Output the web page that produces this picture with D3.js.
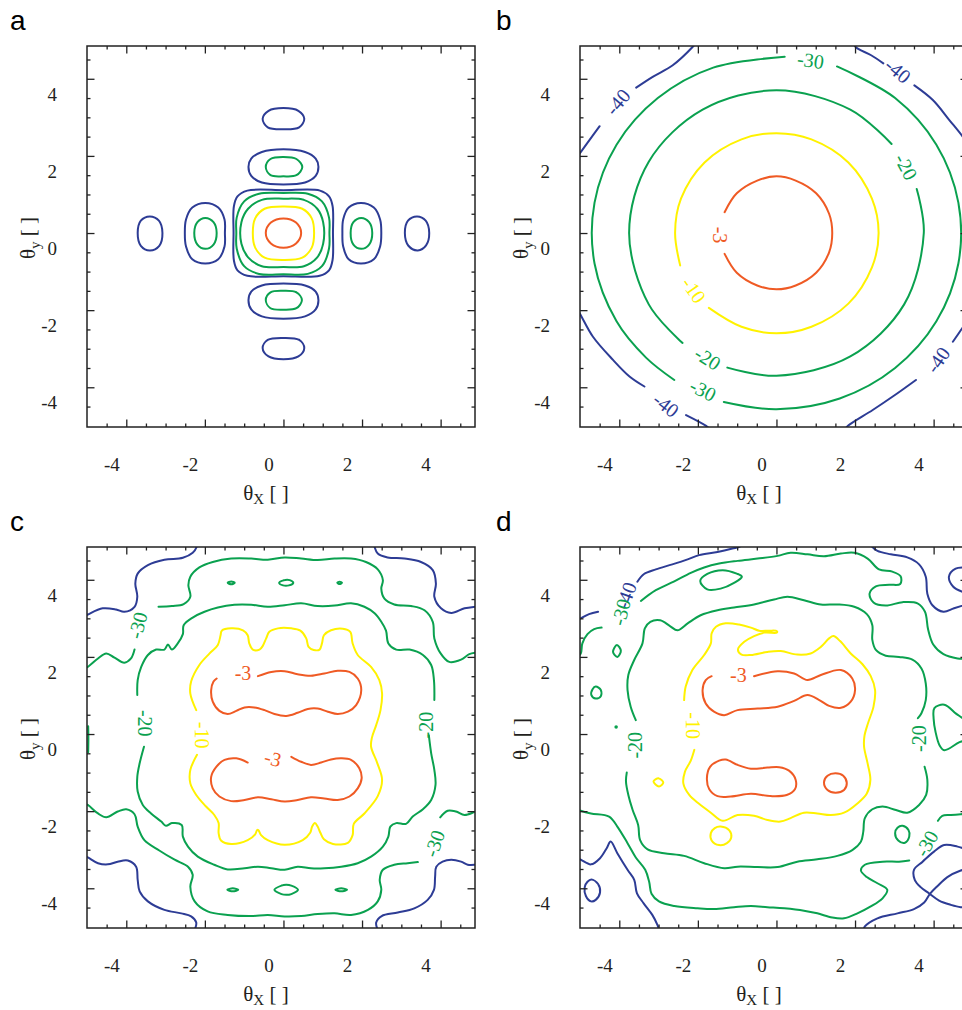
<!DOCTYPE html>
<html>
<head>
<meta charset="utf-8">
<script src="https://cdn.jsdelivr.net/npm/d3@7"></script>
<style>
  body { margin: 0; background: #fff; }
</style>
</head>
<body>
<svg id="fig" width="962" height="1010"></svg>
<script>
// Contour levels (dB) and their line colours
const levels = [-3, -10, -20, -30, -40];
const levelColors = ["#ef5a24", "#fff200", "#0aa14f", "#0aa14f", "#2d3c95"];

// Axis ticks and labels (angles in the same units on both axes)
const majorTicks = [-4, -2, 0, 2, 4];
const minorTicks = [-4.5, -3.5, -3, -2.5, -1.5, -1, -0.5, 0.5, 1, 1.5, 2.5, 3, 3.5, 4.5];
const tickLabels = ["-4", "-2", "0", "2", "4"];
const xDomain = [-5, 4.875];
const yDomain = [-5.03, 4.85];

// ---------- panel a: square aperture pattern (closed contours) ----------
const a_m3 = [[0,0.38],[0.32,0.27],[0.45,0],[0.32,-0.27],[0,-0.38],[-0.32,-0.27],[-0.45,0],[-0.32,0.27]];
const a_m10 = [[0,0.69],[0.48,0.63],[0.72,0.38],[0.78,0],[0.72,-0.38],[0.48,-0.64],[0,-0.70],[-0.48,-0.64],[-0.72,-0.38],[-0.78,0],[-0.72,0.38],[-0.48,0.63]];
const a_m20 = [[0,0.89],[0.52,0.86],[0.86,0.63],[1.01,0.28],[1.01,-0.28],[0.86,-0.63],[0.52,-0.86],[0,-0.88],[-0.55,-0.86],[-0.90,-0.63],[-1.07,-0.28],[-1.07,0.28],[-0.90,0.63],[-0.55,0.86]];
const a_m30 = [[0,1.04],[0.62,1.02],[0.98,0.82],[1.16,0.40],[1.17,0],[1.16,-0.40],[0.98,-0.86],[0.62,-1.06],[0,-1.07],[-0.62,-1.06],[-1.0,-0.86],[-1.19,-0.40],[-1.20,0],[-1.19,0.40],[-1.0,0.82],[-0.62,1.02]];
const a_m40 = [[-0.92,1.10],[0,1.11],[0.93,1.10],[1.16,0.95],[1.25,0.70],[1.26,0],[1.25,-0.70],[1.16,-0.97],[0.92,-1.11],[0,-1.12],[-0.92,-1.11],[-1.17,-0.97],[-1.26,-0.72],[-1.27,0],[-1.26,0.70],[-1.17,0.95]];
const a_lobeTop40 = [[0,2.17],[0.55,2.10],[0.82,1.93],[0.89,1.72],[0.82,1.48],[0.55,1.31],[0,1.26],[-0.55,1.31],[-0.82,1.48],[-0.89,1.72],[-0.82,1.93],[-0.55,2.10]];
const a_lobeBottom40 = [[0,-1.31],[0.55,-1.36],[0.82,-1.52],[0.89,-1.74],[0.82,-1.98],[0.55,-2.16],[0,-2.22],[-0.55,-2.16],[-0.82,-1.98],[-0.89,-1.74],[-0.82,-1.52],[-0.55,-1.36]];
const a_lobeTop2_40 = [[0,3.24],[0.38,3.17],[0.53,2.96],[0.40,2.74],[0,2.69],[-0.40,2.74],[-0.53,2.96],[-0.38,3.17]];
const a_lobeBottom2_40 = [[0,-2.72],[0.40,-2.77],[0.53,-2.98],[0.38,-3.20],[0,-3.27],[-0.38,-3.20],[-0.53,-2.98],[-0.40,-2.77]];
const a_lobeRight40 = [[1.97,0.78],[2.30,0.66],[2.46,0.35],[2.49,0],[2.46,-0.35],[2.30,-0.68],[1.97,-0.79],[1.66,-0.68],[1.52,-0.35],[1.50,0],[1.52,0.35],[1.66,0.66]];
const a_lobeLeft40 = [[-1.99,0.78],[-1.66,0.66],[-1.50,0.35],[-1.49,0],[-1.50,-0.35],[-1.66,-0.68],[-1.99,-0.79],[-2.32,-0.68],[-2.48,-0.35],[-2.51,0],[-2.48,0.35],[-2.32,0.66]];
const a_lobeRight2_40 = [[3.40,0.43],[3.62,0.32],[3.71,0],[3.63,-0.32],[3.42,-0.45],[3.18,-0.33],[3.09,0],[3.17,0.32]];
const a_lobeLeft2_40 = [[-3.40,0.43],[-3.17,0.32],[-3.08,0],[-3.16,-0.33],[-3.40,-0.45],[-3.63,-0.33],[-3.71,0],[-3.63,0.32]];
const a_lobeTop30 = [[0,1.97],[0.33,1.92],[0.48,1.71],[0.33,1.50],[0,1.47],[-0.33,1.50],[-0.45,1.71],[-0.33,1.92]];
const a_lobeBottom30 = [[0,-1.50],[0.33,-1.54],[0.47,-1.74],[0.33,-1.95],[0,-1.99],[-0.33,-1.95],[-0.45,-1.74],[-0.33,-1.54]];
const a_lobeRight30 = [[1.98,0.39],[2.18,0.28],[2.26,0],[2.18,-0.30],[1.98,-0.41],[1.78,-0.30],[1.71,0],[1.78,0.28]];
const a_lobeLeft30 = [[-1.99,0.39],[-1.78,0.28],[-1.70,0],[-1.78,-0.30],[-1.99,-0.41],[-2.19,-0.30],[-2.27,0],[-2.19,0.28]];

// ---------- panel b: circular beam (open arcs, broken at the labels) ----------
const b_m3 = [[-1.32,0.54],[-1.01,1.03],[-0.49,1.36],[0,1.47],[0.49,1.36],[1.01,1.03],[1.34,0.50],[1.42,0],[1.34,-0.50],[1.01,-1.03],[0.49,-1.36],[0,-1.46],[-0.49,-1.36],[-1.01,-1.03],[-1.32,-0.54]];
const b_m10 = [[-1.72,-1.94],[-0.89,-2.43],[0,-2.60],[0.89,-2.43],[1.83,-1.83],[2.43,-0.89],[2.60,0],[2.43,0.89],[1.83,1.83],[0.89,2.43],[0,2.59],[-0.89,2.43],[-1.83,1.83],[-2.43,0.89],[-2.58,0],[-2.45,-0.84]];
const b_m20a = [[2.93,2.31],[1.88,3.20],[0,3.70],[-1.88,3.20],[-3.25,1.85],[-3.75,0],[-3.25,-1.85],[-2.39,-2.85]];
const b_m20b = [[-1.25,-3.49],[0,-3.70],[1.88,-3.20],[3.25,-1.85],[3.75,0],[3.57,1.14]];
const b_m30a = [[0.21,4.57],[-1.61,4.29],[-3.02,3.50],[-4.07,2.29],[-4.63,0.79],[-4.63,-0.79],[-4.07,-2.29],[-3.32,-3.23],[-2.60,-3.81]];
const b_m30b = [[-1.34,-4.38],[0,-4.57],[1.61,-4.29],[3.02,-3.50],[4.07,-2.29],[4.63,-0.79],[4.63,0.79],[4.07,2.29],[3.02,3.50],[1.54,4.32]];
const b_m40tl1 = [[-5.08,1.98],[-5.01,2.06],[-4.76,2.41],[-4.50,2.77]];
const b_m40tl2 = [[-3.57,3.77],[-3.15,4.05],[-2.64,4.35],[-2.13,4.83],[-2.05,4.93]];
const b_m40tr1 = [[1.95,4.93],[2.03,4.81],[2.41,4.61],[2.72,4.40]];
const b_m40tr2 = [[3.51,3.83],[3.98,3.45],[4.40,2.93],[4.74,2.50],[4.91,2.24]];
const b_m40bl1 = [[-5.08,-1.98],[-5.01,-2.08],[-4.67,-2.69],[-4.16,-3.29],[-3.74,-3.72],[-3.36,-3.98]];
const b_m40bl2 = [[-2.30,-4.72],[-1.79,-5.0],[-1.70,-5.08]];
const b_m40br1 = [[1.75,-5.08],[1.82,-5.0],[2.45,-4.59],[2.96,-4.24],[3.55,-3.81]];
const b_m40br2 = [[4.49,-2.82],[4.70,-2.51],[4.91,-2.17]];

// ---------- panel c ----------
const c_m3_upper = [[-0.65,1.50],[-0.31,1.61],[0.03,1.63],[0.36,1.55],[0.70,1.51],[1.04,1.57],[1.38,1.64],[1.68,1.61],[1.89,1.44],[1.98,1.14],[1.85,0.75],[1.64,0.58],[1.38,0.52],[1.13,0.58],[0.87,0.66],[0.62,0.65],[0.36,0.55],[0.07,0.47],[-0.23,0.52],[-0.48,0.62],[-0.74,0.69],[-0.99,0.69],[-1.20,0.60],[-1.42,0.52],[-1.63,0.60],[-1.80,0.84],[-1.84,1.14],[-1.78,1.36],[-1.70,1.44]];
const c_m3_lower = [[-0.91,-0.74],[-1.20,-0.63],[-1.50,-0.67],[-1.71,-0.85],[-1.84,-1.11],[-1.80,-1.41],[-1.63,-1.62],[-1.33,-1.74],[-0.99,-1.71],[-0.65,-1.64],[-0.31,-1.69],[0.03,-1.75],[0.36,-1.71],[0.70,-1.64],[1.04,-1.67],[1.38,-1.71],[1.68,-1.62],[1.89,-1.41],[1.99,-1.15],[1.93,-0.89],[1.72,-0.67],[1.47,-0.63],[1.21,-0.66],[0.96,-0.74],[0.70,-0.80],[0.45,-0.72],[0.20,-0.59]];
const c_m10 = [[-2.22,0.62],[-2.37,1.05],[-2.35,1.36],[-2.14,1.79],[-1.88,2.09],[-1.67,2.31],[-1.60,2.56],[-1.57,2.68],[-1.33,2.74],[-1.03,2.69],[-0.91,2.56],[-0.87,2.35],[-0.78,2.19],[-0.61,2.19],[-0.53,2.28],[-0.44,2.48],[-0.36,2.65],[-0.14,2.74],[0.20,2.74],[0.43,2.68],[0.58,2.48],[0.64,2.26],[0.77,2.18],[0.92,2.19],[0.98,2.35],[1.03,2.56],[1.21,2.69],[1.51,2.73],[1.70,2.65],[1.76,2.35],[1.89,2.05],[2.23,1.74],[2.44,1.40],[2.51,1.05],[2.47,0.62],[2.36,0.23],[2.25,-0.10],[2.23,-0.33],[2.39,-0.76],[2.51,-1.19],[2.40,-1.61],[2.06,-2.06],[1.79,-2.33],[1.76,-2.62],[1.64,-2.82],[1.26,-2.85],[1.03,-2.73],[0.94,-2.56],[0.87,-2.40],[0.80,-2.31],[0.73,-2.40],[0.68,-2.56],[0.49,-2.75],[0.03,-2.87],[-0.40,-2.75],[-0.57,-2.62],[-0.64,-2.49],[-0.67,-2.49],[-0.72,-2.60],[-0.91,-2.75],[-1.33,-2.85],[-1.59,-2.76],[-1.65,-2.57],[-1.65,-2.31],[-1.76,-2.10],[-1.97,-1.88],[-2.22,-1.58],[-2.37,-1.28],[-2.37,-0.93],[-2.20,-0.54]];
const c_m20_upper = [[-3.72,1.01],[-3.71,1.40],[-3.62,1.74],[-3.45,2.05],[-3.24,2.19],[-3.03,2.19],[-2.94,2.32],[-2.84,2.19],[-2.69,2.35],[-2.56,2.59],[-2.54,2.82],[-2.31,3.02],[-2.01,3.17],[-1.67,3.28],[-1.25,3.35],[-0.82,3.35],[-0.40,3.30],[0.03,3.34],[0.45,3.39],[0.87,3.32],[1.30,3.33],[1.72,3.39],[2.06,3.30],[2.32,3.13],[2.49,2.91],[2.61,2.68],[2.67,2.35],[2.87,2.19],[3.21,2.19],[3.55,2.05],[3.76,1.79],[3.83,1.40],[3.84,0.88]];
const c_m20_lower = [[3.70,-0.03],[3.76,-0.50],[3.84,-0.93],[3.87,-1.32],[3.76,-1.71],[3.55,-1.95],[3.29,-2.14],[3.12,-2.33],[2.87,-2.31],[2.72,-2.40],[2.67,-2.66],[2.53,-2.92],[2.23,-3.18],[1.89,-3.35],[1.47,-3.44],[1.04,-3.48],[0.70,-3.48],[0.36,-3.44],[0.03,-3.52],[-0.31,-3.48],[-0.65,-3.44],[-0.99,-3.48],[-1.42,-3.51],[-1.76,-3.39],[-2.18,-3.18],[-2.43,-2.92],[-2.56,-2.66],[-2.59,-2.36],[-2.84,-2.31],[-2.99,-2.38],[-3.11,-2.27],[-3.37,-2.06],[-3.58,-1.84],[-3.71,-1.49],[-3.72,-1.11],[-3.66,-0.76],[-3.55,-0.33]];
const c_m30_upperLeft = [[-5.08,1.70],[-4.98,1.74],[-4.72,1.96],[-4.51,2.09],[-4.30,1.98],[-4.05,1.85],[-3.88,1.96],[-3.79,2.19]];
const c_m30_upper = [[-3.18,3.30],[-2.84,3.32],[-2.54,3.37],[-2.37,3.56],[-2.42,3.86],[-2.37,4.08],[-2.14,4.32],[-1.80,4.46],[-1.33,4.55],[-0.82,4.55],[-0.40,4.52],[0.03,4.58],[0.45,4.55],[0.87,4.51],[1.30,4.55],[1.72,4.55],[2.10,4.46],[2.40,4.27],[2.53,3.99],[2.49,3.77],[2.57,3.51],[2.82,3.36],[3.25,3.32],[3.59,3.21],[3.80,2.91],[3.84,2.48],[4.00,2.09],[4.22,1.87],[4.52,1.93],[4.73,2.07],[4.90,2.11],[5.0,2.12]];
const c_m30_lower = [[-5.08,-1.80],[-4.98,-1.84],[-4.72,-2.06],[-4.51,-2.16],[-4.22,-2.01],[-4.00,-1.95],[-3.79,-2.08],[-3.71,-2.40],[-3.54,-2.75],[-3.16,-3.02],[-2.77,-3.26],[-2.43,-3.44],[-2.31,-3.65],[-2.37,-3.96],[-2.26,-4.34],[-1.93,-4.60],[-1.42,-4.69],[-0.82,-4.72],[-0.40,-4.69],[0.03,-4.73],[0.45,-4.72],[0.87,-4.67],[1.30,-4.65],[1.72,-4.69],[2.15,-4.56],[2.40,-4.34],[2.49,-4.04],[2.45,-3.78],[2.53,-3.52],[2.82,-3.39],[3.16,-3.35],[3.42,-3.32]];
const c_m30_lowerRight = [[3.99,-2.16],[4.18,-1.99],[4.39,-2.01],[4.61,-2.10],[4.90,-2.01],[5.0,-2.0]];
const c_m30_edge = [[-4.97,0.20],[-4.965,-0.12],[-4.97,-0.47]];
const c_islandTL = [[-1.42,3.92],[-1.33,3.955],[-1.24,3.92],[-1.33,3.885]];
const c_islandTM = [[-0.11,3.92],[0.0,3.985],[0.16,3.99],[0.25,3.92],[0.14,3.855],[-0.01,3.855]];
const c_islandTR = [[1.37,3.92],[1.43,3.95],[1.49,3.92],[1.43,3.89]];
const c_islandBL = [[-1.43,-4.04],[-1.29,-4.0],[-1.15,-4.04],[-1.29,-4.08]];
const c_islandBM = [[-0.23,-4.04],[-0.05,-3.93],[0.07,-3.91],[0.20,-3.93],[0.37,-4.04],[0.20,-4.15],[0.07,-4.17],[-0.05,-4.15]];
const c_islandBR = [[1.32,-4.04],[1.47,-4.0],[1.62,-4.04],[1.47,-4.08]];
const c_m40tl = [[-5.08,3.05],[-4.98,3.10],[-4.60,3.26],[-4.26,3.23],[-4.05,3.17],[-3.79,3.30],[-3.72,3.56],[-3.77,3.90],[-3.71,4.16],[-3.45,4.38],[-3.03,4.52],[-2.56,4.57],[-2.31,4.70],[-2.21,4.85],[-2.20,4.95]];
const c_m40tr = [[2.30,4.95],[2.32,4.85],[2.40,4.68],[2.65,4.58],[3.08,4.55],[3.50,4.46],[3.80,4.25],[3.88,3.90],[3.84,3.56],[4.01,3.26],[4.27,3.14],[4.61,3.26],[4.88,3.30],[5.0,3.31]];
const c_m40bl = [[-5.08,-3.16],[-4.98,-3.20],[-4.72,-3.35],[-4.47,-3.38],[-4.22,-3.31],[-3.96,-3.28],[-3.75,-3.44],[-3.71,-3.78],[-3.66,-4.08],[-3.45,-4.34],[-3.03,-4.56],[-2.60,-4.65],[-2.35,-4.73],[-2.22,-4.89],[-2.26,-5.08]];
const c_m40br = [[2.40,-5.08],[2.36,-4.89],[2.50,-4.72],[2.91,-4.63],[3.33,-4.52],[3.67,-4.30],[3.83,-4.04],[3.86,-3.70],[3.89,-3.44],[4.05,-3.31],[4.27,-3.26],[4.52,-3.31],[4.69,-3.39],[4.90,-3.39],[5.0,-3.38]];

// ---------- panel d ----------
const d_m3_upper = [[-0.57,1.50],[0.03,1.63],[0.45,1.57],[0.79,1.40],[1.13,1.53],[1.64,1.66],[1.93,1.44],[2.00,1.14],[1.89,0.84],[1.64,0.68],[1.34,0.73],[1.09,0.88],[0.79,1.01],[0.45,0.86],[0.03,0.71],[-0.48,0.66],[-0.99,0.62],[-1.33,0.49],[-1.59,0.58],[-1.80,0.79],[-1.88,1.14],[-1.80,1.40],[-1.65,1.50]];
const d_m3_lower = [[-1.29,-0.66],[-0.99,-0.80],[-0.65,-0.90],[-0.23,-0.87],[0.07,-0.86],[0.32,-0.95],[0.49,-1.19],[0.47,-1.43],[0.26,-1.58],[-0.14,-1.61],[-0.65,-1.55],[-1.16,-1.62],[-1.50,-1.61],[-1.71,-1.43],[-1.77,-1.15],[-1.69,-0.85],[-1.46,-0.69]];
const d_m3_dot = [[1.50,-1.02],[1.70,-1.08],[1.79,-1.27],[1.72,-1.45],[1.50,-1.52],[1.30,-1.45],[1.21,-1.25],[1.30,-1.08]];
const d_m10 = [[-2.35,0.88],[-2.31,1.23],[-2.14,1.66],[-1.84,2.05],[-1.67,2.35],[-1.65,2.61],[-1.54,2.78],[-1.29,2.87],[-0.95,2.84],[-0.65,2.76],[-0.44,2.68],[-0.19,2.68],[0.01,2.67],[0.01,2.63],[-0.31,2.63],[-0.57,2.54],[-0.82,2.39],[-0.98,2.19],[-0.89,2.06],[-0.65,2.05],[-0.23,2.13],[0.11,2.15],[0.53,2.06],[0.87,2.09],[1.13,2.26],[1.34,2.48],[1.45,2.54],[1.62,2.41],[1.89,2.09],[2.19,1.81],[2.40,1.50],[2.51,1.14],[2.47,0.71],[2.33,0.28],[2.24,-0.05],[2.23,-0.33],[2.32,-0.76],[2.39,-1.19],[2.30,-1.54],[2.06,-1.80],[1.72,-2.04],[1.38,-2.10],[1.04,-2.06],[0.70,-2.04],[0.36,-2.18],[0.10,-2.27],[-0.23,-2.23],[-0.57,-2.12],[-0.99,-2.10],[-1.37,-2.25],[-1.67,-2.04],[-1.97,-1.81],[-2.22,-1.58],[-2.37,-1.28],[-2.33,-0.98],[-2.18,-0.69],[-2.09,-0.41]];
const d_m10_diamond = [[-3.13,-1.23],[-3.00,-1.15],[-2.88,-1.26],[-2.99,-1.36]];
const d_m10_ring = [[-1.42,-2.40],[-1.20,-2.50],[-1.15,-2.68],[-1.26,-2.83],[-1.46,-2.88],[-1.65,-2.76],[-1.67,-2.57],[-1.57,-2.44]];
const d_m20_upper = [[-3.58,0.36],[-3.71,0.71],[-3.79,1.14],[-3.77,1.53],[-3.62,1.92],[-3.41,2.35],[-3.35,2.74],[-3.21,2.91],[-2.96,2.95],[-2.71,2.80],[-2.52,2.69],[-2.26,2.87],[-1.93,3.08],[-1.50,3.21],[-1.08,3.28],[-0.57,3.36],[-0.06,3.49],[0.28,3.56],[0.70,3.47],[1.13,3.36],[1.55,3.36],[1.98,3.30],[2.30,3.11],[2.44,2.82],[2.44,2.44],[2.53,2.18],[2.78,2.03],[3.12,2.00],[3.46,1.93],[3.69,1.70],[3.80,1.31],[3.80,0.88],[3.69,0.54],[3.60,0.41]];
const d_m20_lower = [[3.77,-0.85],[3.84,-1.19],[3.81,-1.58],[3.63,-1.84],[3.33,-2.04],[3.04,-1.97],[2.70,-1.88],[2.44,-1.95],[2.25,-2.18],[2.21,-2.53],[2.15,-2.79],[1.93,-3.01],[1.55,-3.16],[1.04,-3.25],[0.53,-3.31],[0.03,-3.45],[-0.48,-3.45],[-0.99,-3.44],[-1.33,-3.48],[-1.84,-3.35],[-2.35,-3.16],[-2.86,-3.09],[-3.28,-2.99],[-3.47,-2.75],[-3.52,-2.36],[-3.66,-1.97],[-3.77,-1.58],[-3.83,-1.23],[-3.81,-1.00]];
const d_m30_upperLeft = [[-5.08,2.0],[-4.98,2.09],[-4.94,2.35],[-4.81,2.59],[-4.64,2.72],[-4.45,2.76]];
const d_m30_upper = [[-3.45,3.45],[-3.07,3.73],[-2.60,3.96],[-2.18,4.18],[-1.84,4.32],[-1.46,4.42],[-0.99,4.49],[-0.48,4.55],[0.03,4.62],[0.36,4.70],[0.79,4.66],[1.21,4.61],[1.64,4.68],[1.98,4.70],[2.32,4.55],[2.61,4.27],[2.95,4.21],[3.16,4.09],[3.15,3.89],[2.87,3.87],[2.53,3.83],[2.37,3.64],[2.47,3.41],[2.78,3.33],[3.21,3.42],[3.59,3.39],[3.78,3.17],[3.86,2.71],[3.99,2.32],[4.25,2.07],[4.61,1.96],[4.90,1.95],[5.0,1.95]];
const d_m30_islandTop = [[-1.94,3.97],[-1.76,4.15],[-1.37,4.25],[-1.01,4.16],[-0.88,4.08],[-1.08,3.92],[-1.42,3.77],[-1.76,3.75]];
const d_m30_islet1 = [[-4.06,2.31],[-3.96,2.16],[-4.05,2.00],[-4.16,2.13]];
const d_m30_islet2 = [[-4.60,1.23],[-4.47,1.14],[-4.47,0.98],[-4.60,0.92],[-4.71,1.01],[-4.68,1.16]];
const d_m30_islet3 = [[-4.08,0.20],[-4.06,0.18],[-4.08,0.16],[-4.10,0.18]];
const d_m30_islandRight = [[4.00,0.40],[4.02,0.67],[4.27,0.76],[4.57,0.53],[4.83,0.31],[4.91,-0.12],[4.66,-0.21],[4.27,-0.42],[4.15,-0.29],[4.05,0.05]];
const d_m30_lower = [[-5.08,-1.95],[-4.98,-1.99],[-4.72,-2.06],[-4.26,-2.14],[-4.05,-2.40],[-3.79,-2.83],[-3.58,-3.20],[-3.34,-3.52],[-3.24,-3.83],[-3.18,-4.14],[-2.99,-4.34],[-2.60,-4.46],[-2.01,-4.52],[-1.59,-4.54],[-1.08,-4.49],[-0.65,-4.46],[-0.23,-4.49],[0.20,-4.52],[0.70,-4.58],[1.04,-4.65],[1.42,-4.76],[1.72,-4.78],[2.06,-4.65],[2.40,-4.47],[2.70,-4.26],[2.82,-4.04],[2.57,-3.87],[2.30,-3.71],[2.15,-3.54],[2.25,-3.39],[2.70,-3.31],[3.12,-3.31],[3.38,-3.28]];
const d_m30_lowerRight = [[4.11,-2.25],[4.22,-2.12],[4.44,-2.10],[4.69,-2.08],[4.90,-2.06],[5.0,-2.05]];
const d_m30_ring = [[3.21,-2.38],[3.36,-2.49],[3.38,-2.66],[3.27,-2.82],[3.10,-2.76],[3.02,-2.57],[3.08,-2.43]];
const d_m40tl1 = [[-5.08,2.96],[-4.98,3.00],[-4.77,3.11],[-4.54,3.17]];
const d_m40tl2 = [[-3.54,3.95],[-3.37,4.15],[-3.07,4.27],[-2.65,4.40],[-2.26,4.53],[-1.97,4.64],[-1.50,4.72],[-1.12,4.81],[-0.91,4.87],[-0.85,4.95]];
const d_m40tr = [[2.40,4.95],[2.44,4.85],[2.57,4.75],[2.91,4.66],[3.33,4.58],[3.63,4.40],[3.80,4.08],[3.84,3.64],[3.97,3.34],[4.25,3.17],[4.52,3.26],[4.93,3.39],[5.0,3.41]];
const d_m40trLoop = [[5.0,4.32],[4.93,4.32],[4.56,4.29],[4.39,4.08],[4.50,3.82],[4.73,3.69],[4.93,3.64],[5.0,3.63]];
const d_m40bl = [[-5.08,-3.22],[-4.98,-3.26],[-4.72,-3.38],[-4.49,-3.22],[-4.32,-2.96],[-4.22,-2.79],[-4.05,-3.09],[-3.79,-3.52],[-3.62,-3.78],[-3.55,-4.13],[-3.38,-4.39],[-3.16,-4.69],[-3.03,-4.95],[-2.99,-5.08]];
const d_m40blRing = [[-4.71,-3.77],[-4.54,-3.89],[-4.49,-4.11],[-4.60,-4.30],[-4.72,-4.34],[-4.85,-4.20],[-4.88,-3.97],[-4.81,-3.83]];
const d_m40br1 = [[2.22,-5.08],[2.25,-4.99],[2.57,-4.78],[3.08,-4.65],[3.50,-4.54],[3.76,-4.37],[3.91,-4.14],[4.10,-3.94],[4.35,-3.71],[4.69,-3.54],[4.93,-3.48],[5.0,-3.47]];
const d_m40br2 = [[5.0,-3.03],[4.93,-3.02],[4.61,-2.92],[4.27,-2.88],[4.01,-3.05],[3.72,-3.31],[3.50,-3.52],[3.52,-3.78],[3.67,-3.97],[3.88,-4.13],[4.14,-4.32],[4.44,-4.43],[4.69,-4.49],[4.93,-4.49],[5.0,-4.49]];

// Contour lists per panel: level, closed ring or open line, points
const panelA = [
  {lvl:-40, closed:true, pts:a_m40}, {lvl:-30, closed:true, pts:a_m30},
  {lvl:-20, closed:true, pts:a_m20}, {lvl:-10, closed:true, pts:a_m10}, {lvl:-3, closed:true, pts:a_m3},
  {lvl:-40, closed:true, pts:a_lobeTop40}, {lvl:-40, closed:true, pts:a_lobeBottom40},
  {lvl:-40, closed:true, pts:a_lobeTop2_40}, {lvl:-40, closed:true, pts:a_lobeBottom2_40},
  {lvl:-40, closed:true, pts:a_lobeRight40}, {lvl:-40, closed:true, pts:a_lobeLeft40},
  {lvl:-40, closed:true, pts:a_lobeRight2_40}, {lvl:-40, closed:true, pts:a_lobeLeft2_40},
  {lvl:-30, closed:true, pts:a_lobeTop30}, {lvl:-30, closed:true, pts:a_lobeBottom30},
  {lvl:-30, closed:true, pts:a_lobeRight30}, {lvl:-30, closed:true, pts:a_lobeLeft30}
];
const panelB = [
  {lvl:-3, closed:false, pts:b_m3}, {lvl:-10, closed:false, pts:b_m10},
  {lvl:-20, closed:false, pts:b_m20a}, {lvl:-20, closed:false, pts:b_m20b},
  {lvl:-30, closed:false, pts:b_m30a}, {lvl:-30, closed:false, pts:b_m30b},
  {lvl:-40, closed:false, pts:b_m40tl1}, {lvl:-40, closed:false, pts:b_m40tl2},
  {lvl:-40, closed:false, pts:b_m40tr1}, {lvl:-40, closed:false, pts:b_m40tr2},
  {lvl:-40, closed:false, pts:b_m40bl1}, {lvl:-40, closed:false, pts:b_m40bl2},
  {lvl:-40, closed:false, pts:b_m40br1}, {lvl:-40, closed:false, pts:b_m40br2}
];
const panelC = [
  {lvl:-3, closed:false, pts:c_m3_upper}, {lvl:-3, closed:false, pts:c_m3_lower},
  {lvl:-10, closed:false, pts:c_m10},
  {lvl:-20, closed:false, pts:c_m20_upper}, {lvl:-20, closed:false, pts:c_m20_lower},
  {lvl:-30, closed:false, pts:c_m30_upperLeft}, {lvl:-30, closed:false, pts:c_m30_upper},
  {lvl:-30, closed:false, pts:c_m30_lower}, {lvl:-30, closed:false, pts:c_m30_lowerRight},
  {lvl:-30, closed:false, pts:c_m30_edge},
  {lvl:-30, closed:true, pts:c_islandTL}, {lvl:-30, closed:true, pts:c_islandTM}, {lvl:-30, closed:true, pts:c_islandTR},
  {lvl:-30, closed:true, pts:c_islandBL}, {lvl:-30, closed:true, pts:c_islandBM}, {lvl:-30, closed:true, pts:c_islandBR},
  {lvl:-40, closed:false, pts:c_m40tl}, {lvl:-40, closed:false, pts:c_m40tr},
  {lvl:-40, closed:false, pts:c_m40bl}, {lvl:-40, closed:false, pts:c_m40br}
];
const panelD = [
  {lvl:-3, closed:false, pts:d_m3_upper}, {lvl:-3, closed:true, pts:d_m3_lower}, {lvl:-3, closed:true, pts:d_m3_dot},
  {lvl:-10, closed:false, pts:d_m10}, {lvl:-10, closed:true, pts:d_m10_diamond}, {lvl:-10, closed:true, pts:d_m10_ring},
  {lvl:-20, closed:false, pts:d_m20_upper}, {lvl:-20, closed:false, pts:d_m20_lower},
  {lvl:-30, closed:false, pts:d_m30_upperLeft}, {lvl:-30, closed:false, pts:d_m30_upper},
  {lvl:-30, closed:true, pts:d_m30_islandTop}, {lvl:-30, closed:true, pts:d_m30_islet1},
  {lvl:-30, closed:true, pts:d_m30_islet2}, {lvl:-30, closed:true, pts:d_m30_islet3},
  {lvl:-30, closed:true, pts:d_m30_islandRight}, {lvl:-30, closed:false, pts:d_m30_lower},
  {lvl:-30, closed:false, pts:d_m30_lowerRight}, {lvl:-30, closed:true, pts:d_m30_ring},
  {lvl:-40, closed:false, pts:d_m40tl1}, {lvl:-40, closed:false, pts:d_m40tl2},
  {lvl:-40, closed:false, pts:d_m40tr}, {lvl:-40, closed:false, pts:d_m40trLoop},
  {lvl:-40, closed:false, pts:d_m40bl}, {lvl:-40, closed:true, pts:d_m40blRing},
  {lvl:-40, closed:false, pts:d_m40br1}, {lvl:-40, closed:false, pts:d_m40br2}
];

// Inline contour labels: text, level, position, rotation (deg)
const labelsB = [
  {t:"-40", lvl:-40, x:-4.04, y:3.40, r:-50},
  {t:"-30", lvl:-30, x:0.87, y:4.48, r:8},
  {t:"-40", lvl:-40, x:3.09, y:4.21, r:40},
  {t:"-20", lvl:-20, x:3.30, y:1.72, r:62},
  {t:"-3", lvl:-3, x:-1.43, y:-0.05, r:90},
  {t:"-10", lvl:-10, x:-2.10, y:-1.48, r:55},
  {t:"-20", lvl:-20, x:-1.75, y:-3.25, r:32},
  {t:"-30", lvl:-30, x:-1.87, y:-4.07, r:27},
  {t:"-40", lvl:-40, x:-2.81, y:-4.46, r:38},
  {t:"-40", lvl:-40, x:4.11, y:-3.29, r:-55}
];
const labelsC = [
  {t:"-30", lvl:-30, x:-3.71, y:2.82, r:-75},
  {t:"-20", lvl:-20, x:-3.52, y:0.28, r:90},
  {t:"-10", lvl:-10, x:-2.08, y:-0.03, r:90},
  {t:"-3", lvl:-3, x:-1.03, y:1.57, r:0},
  {t:"-3", lvl:-3, x:-0.27, y:-0.63, r:15},
  {t:"-20", lvl:-20, x:3.63, y:0.23, r:-90},
  {t:"-30", lvl:-30, x:3.84, y:-2.84, r:-70}
];
const labelsD = [
  {t:"-40", lvl:-40, x:-3.83, y:3.59, r:-70},
  {t:"-30", lvl:-30, x:-3.96, y:3.16, r:-75},
  {t:"-3", lvl:-3, x:-0.97, y:1.54, r:0},
  {t:"-10", lvl:-10, x:-2.13, y:0.22, r:90},
  {t:"-20", lvl:-20, x:-3.61, y:-0.29, r:-90},
  {t:"-20", lvl:-20, x:3.64, y:-0.12, r:-90},
  {t:"-30", lvl:-30, x:3.82, y:-2.84, r:-60}
];

// ---------- drawing ----------
const W = 388, H = 381;
const SERIF = "'Liberation Serif', 'Times New Roman', serif";
const color = d3.scaleOrdinal().domain(levels).range(levelColors);
const svg = d3.select("#fig");

const panels = [
  {key:"a", left:87, top:46, lines:panelA, labels:[], letter:[10, 30]},
  {key:"b", left:580, top:46, lines:panelB, labels:labelsB, letter:[496, 30]},
  {key:"c", left:87, top:547, lines:panelC, labels:labelsC, letter:[10, 531]},
  {key:"d", left:580, top:547, lines:panelD, labels:labelsD, letter:[496, 531]}
];

panels.forEach(p => {
  const g = svg.append("g").attr("transform", `translate(${p.left},${p.top})`);
  const x = d3.scaleLinear().domain(xDomain).range([0, W]);
  const y = d3.scaleLinear().domain(yDomain).range([H, 0]);

  const clipId = "clip-" + p.key;
  g.append("clipPath").attr("id", clipId).append("rect").attr("width", W).attr("height", H);
  const plot = g.append("g").attr("clip-path", `url(#${clipId})`);

  const openLine = d3.line().x(d => x(d[0])).y(d => y(d[1])).curve(d3.curveCatmullRom.alpha(0.5));
  const ringLine = d3.line().x(d => x(d[0])).y(d => y(d[1])).curve(d3.curveCatmullRomClosed.alpha(0.5));

  plot.selectAll("path.contour").data(p.lines).join("path")
    .attr("class", "contour")
    .attr("d", d => (d.closed ? ringLine : openLine)(d.pts))
    .attr("fill", "none")
    .attr("stroke", d => color(d.lvl))
    .attr("stroke-width", 2)
    .attr("stroke-linejoin", "round")
    .attr("stroke-linecap", "round");

  plot.selectAll("text.clabel").data(p.labels).join("text")
    .attr("class", "clabel")
    .attr("transform", d => `translate(${x(d.x)},${y(d.y)}) rotate(${d.r})`)
    .attr("text-anchor", "middle")
    .attr("dominant-baseline", "central")
    .attr("font-family", SERIF)
    .attr("font-size", 20)
    .attr("fill", d => color(d.lvl))
    .text(d => d.t);

  // frame
  g.append("rect").attr("width", W).attr("height", H)
    .attr("fill", "none").attr("stroke", "#222").attr("stroke-width", 1.5);

  // inward ticks on all four sides
  const sides = [
    [() => d3.axisBottom(x), `translate(0,${H})`],
    [() => d3.axisTop(x), "translate(0,0)"],
    [() => d3.axisLeft(y), "translate(0,0)"],
    [() => d3.axisRight(y), `translate(${W},0)`]
  ];
  sides.forEach(([mk, tr]) => {
    [[majorTicks, 7.5], [minorTicks, 3.5]].forEach(([vals, len]) => {
      const ax = g.append("g").attr("transform", tr)
        .call(mk().tickValues(vals).tickSize(-len).tickSizeOuter(0).tickFormat(""));
      ax.select(".domain").remove();
      ax.selectAll("line").attr("stroke", "#222").attr("stroke-width", 1.3);
    });
  });

  // tick labels
  const xl = g.append("g").attr("transform", `translate(0,${H})`)
    .call(d3.axisBottom(x).tickValues(majorTicks).tickFormat((d, i) => tickLabels[i]).tickSize(0));
  xl.select(".domain").remove();
  xl.selectAll("text").attr("y", 43.7).attr("dy", null).attr("dx", -15)
    .attr("font-family", SERIF).attr("font-size", 19).attr("fill", "#231f20");

  const yl = g.append("g")
    .call(d3.axisLeft(y).tickValues(majorTicks).tickFormat((d, i) => tickLabels[i]).tickSize(0));
  yl.select(".domain").remove();
  yl.selectAll("text").attr("x", -30).attr("dy", null).attr("y", 21.4)
    .attr("font-family", SERIF).attr("font-size", 19).attr("fill", "#231f20");

  // axis titles
  const xt = g.append("text").attr("x", 179).attr("y", H + 73)
    .attr("text-anchor", "middle").attr("font-family", SERIF).attr("font-size", 21).attr("fill", "#231f20");
  xt.append("tspan").text("\u03b8");
  xt.append("tspan").attr("font-size", 15).attr("dy", 4).text("X");
  xt.append("tspan").attr("dy", -4).text("\u00a0[\u00a0]");

  const yt = g.append("text").attr("transform", `translate(-52,192) rotate(-90)`)
    .attr("text-anchor", "middle").attr("font-family", SERIF).attr("font-size", 21).attr("fill", "#231f20");
  yt.append("tspan").text("\u03b8");
  yt.append("tspan").attr("font-size", 15).attr("dy", 5).text("y");
  yt.append("tspan").attr("dy", -5).text("\u00a0[\u00a0]");

  // panel letter
  svg.append("text").attr("x", p.letter[0]).attr("y", p.letter[1])
    .attr("font-family", "'Liberation Sans', Arial, sans-serif").attr("font-size", 28).attr("fill", "#000")
    .text(p.key);
});
</script>
</body>
</html>
